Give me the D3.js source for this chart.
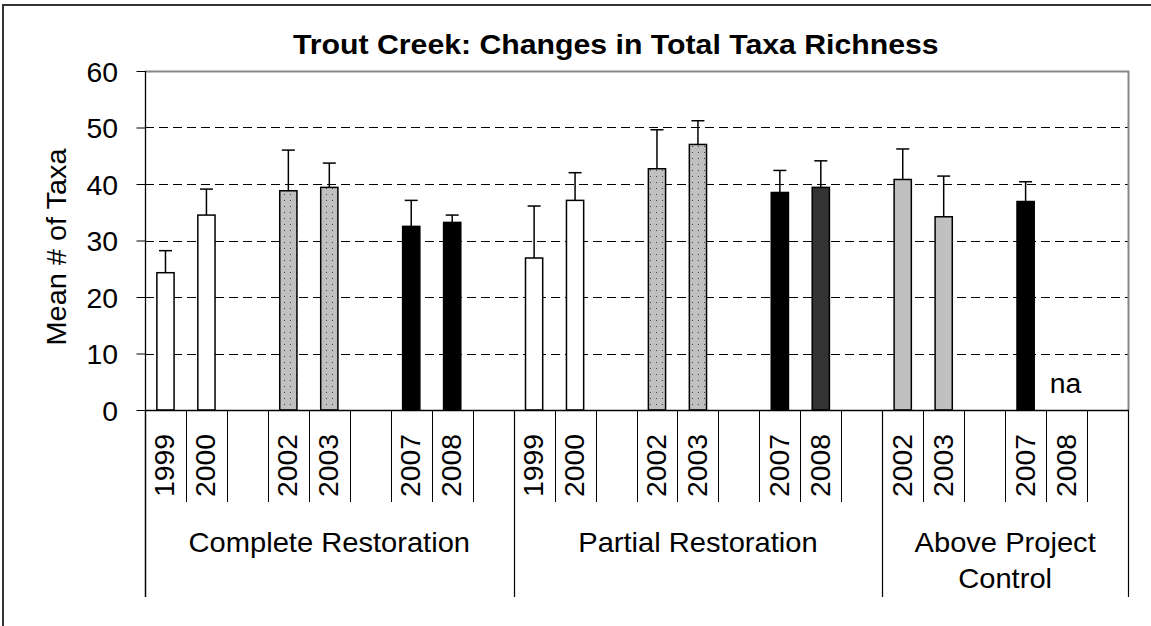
<!DOCTYPE html>
<html><head><meta charset="utf-8">
<script src="https://cdn.jsdelivr.net/npm/d3@7"></script>
<style>body{margin:0;background:#fff}svg{display:block}text{font-family:"Liberation Sans",Arial,sans-serif;fill:#000}</style>
</head><body><svg id="c" width="1151" height="626"></svg>
<script>
const title = "Trout Creek: Changes in Total Taxa Richness";
const yLabel = "Mean # of Taxa";
const yTicks = [0, 10, 20, 30, 40, 50, 60];
const groupLabels = [["Complete Restoration"], ["Partial Restoration"], ["Above Project", "Control"]];
const completeYears = ["1999", "2000", "", "2002", "2003", "", "2007", "2008", ""];
const partialYears  = ["1999", "2000", "", "2002", "2003", "", "2007", "2008", ""];
const controlYears  = ["2002", "2003", "", "2007", "2008", ""];
const completeMeans = [24.3, 34.5, null, 38.8, 39.4, null, 32.5, 33.2, null];
const partialMeans  = [26.9, 37.1, null, 42.7, 47.0, null, 38.5, 39.4, null];
const controlMeans  = [40.8, 34.2, null, 36.9, null, null];
const completeErr = [3.9, 4.6, null, 7.2, 4.3, null, 4.6, 1.3, null];
const partialErr  = [9.2, 4.9, null, 6.9, 4.2, null, 3.9, 4.7, null];
const controlErr  = [5.4, 7.2, null, 3.5, null, null];
const missingLabel = "na";

const groups = [
  {key: "complete", years: completeYears, means: completeMeans, err: completeErr},
  {key: "partial", years: partialYears, means: partialMeans, err: partialErr},
  {key: "control", years: controlYears, means: controlMeans, err: controlErr}
];
const slots = [];
groups.forEach((g, gi) => g.years.forEach((yr, i) => slots.push({gi, key: g.key, year: yr, mean: g.means[i], err: g.err[i], idx: slots.length})));

const svg = d3.select("#c");
const defs = svg.append("defs");
const pat = defs.append("pattern").attr("id", "dots").attr("width", 6).attr("height", 6).attr("patternUnits", "userSpaceOnUse");
pat.append("rect").attr("width", 6).attr("height", 6).attr("fill", "#c0c0c0");
pat.append("rect").attr("x", 2).attr("y", 2).attr("width", 1).attr("height", 1).attr("fill", "#444");

const L = 145, R = 1128, T = 71, B = 410;
const x = d3.scaleBand().domain(slots.map(d => d.idx)).range([L, R]).padding(0);
const y = d3.scaleLinear().domain([0, 60]).range([B, T]);

function txt(parent, px, py, s, o) {
  return parent.append("text")
    .attr("transform", `translate(${px},${py}) rotate(${o.rot || 0}) scale(${o.sx || 1},1)`)
    .attr("text-anchor", o.anchor || "start")
    .attr("font-size", o.size)
    .attr("font-weight", o.weight || "normal")
    .text(s);
}

// outer border
svg.append("rect").attr("x", 3).attr("y", 5).attr("width", 1170).attr("height", 660)
  .attr("fill", "none").attr("stroke", "#333").attr("stroke-width", 2);

// gridlines
svg.append("g").selectAll("line").data(yTicks.filter(t => t > 0 && t < 60)).join("line")
  .attr("x1", L).attr("x2", R).attr("y1", d => Math.round(y(d)) + 0.5).attr("y2", d => Math.round(y(d)) + 0.5)
  .attr("stroke", "#000").attr("stroke-dasharray", "9,5").attr("stroke-width", 1);

// plot border top/right
svg.append("path").attr("d", `M${L},${T + 0.5}H${R + 0.5}V${B}`).attr("fill", "none").attr("stroke", "#888").attr("stroke-width", 2);

// y axis
const yAxis = d3.axisLeft(y).tickValues(yTicks).tickSize(9).tickFormat("");
const ya = svg.append("g").attr("transform", `translate(${L + 0.5},0)`).call(yAxis);
ya.select(".domain").remove();
ya.selectAll(".tick line").attr("stroke", "#000");
yTicks.forEach(t => txt(svg, 118, y(t) + 10.5, String(t), {size: 27, anchor: "end", sx: 1.05}));
svg.append("line").attr("x1", L + 0.5).attr("x2", L + 0.5).attr("y1", T).attr("y2", 597).attr("stroke", "#000").attr("stroke-width", 1.3);

// bars
const bw = x.bandwidth() * 0.42;
const barFill = d => {
  if (d.year === "1999" || d.year === "2000") return "#fff";
  if (d.year === "2002" || d.year === "2003") return d.key === "control" ? "#c0c0c0" : "url(#dots)";
  if (d.year === "2008" && d.key === "partial") return "#333";
  return "#000";
};
const data = slots.filter(d => d.mean != null);
svg.append("g").selectAll("rect").data(data).join("rect")
  .attr("x", d => x(d.idx) + x.bandwidth() / 2 - bw / 2)
  .attr("width", bw)
  .attr("y", d => y(d.mean))
  .attr("height", d => y(0) - y(d.mean))
  .attr("fill", barFill).attr("stroke", "#000").attr("stroke-width", 1.5);

// error bars
const eb = svg.append("g").attr("stroke", "#000").attr("stroke-width", 1.5);
data.forEach(d => {
  const cx = x(d.idx) + x.bandwidth() / 2;
  eb.append("line").attr("x1", cx).attr("x2", cx).attr("y1", y(d.mean)).attr("y2", y(d.mean + d.err));
  eb.append("line").attr("x1", cx - 6.5).attr("x2", cx + 6.5).attr("y1", y(d.mean + d.err)).attr("y2", y(d.mean + d.err));
});

// na
slots.filter(d => d.mean == null && d.year !== "").forEach(d => {
  txt(svg, x(d.idx) + x.bandwidth() / 2 - 1, 393, missingLabel, {size: 27, anchor: "middle", sx: 1.05});
});

// x axis line
svg.append("line").attr("x1", L).attr("x2", R + 1).attr("y1", B + 0.5).attr("y2", B + 0.5).attr("stroke", "#000").attr("stroke-width", 1.3);

// category separators
const groupStart = [];
slots.forEach(d => { if (d.idx === 0 || slots[d.idx - 1].gi !== d.gi) groupStart.push(d.idx); });
slots.forEach(d => {
  if (groupStart.includes(d.idx)) return;
  const xx = Math.round(x(d.idx)) + 0.5;
  svg.append("line").attr("x1", xx).attr("x2", xx).attr("y1", B).attr("y2", 502).attr("stroke", "#000");
});
groupStart.concat([slots.length]).forEach(i => {
  const xx = i === slots.length ? R + 0.5 : Math.round(x(i)) + 0.5;
  svg.append("line").attr("x1", xx).attr("x2", xx).attr("y1", B).attr("y2", 597).attr("stroke", "#000").attr("stroke-width", 1.2);
});

// year labels
slots.filter(d => d.year !== "").forEach(d => {
  txt(svg, x(d.idx) + x.bandwidth() / 2 + 9, 434, d.year, {size: 27, anchor: "end", rot: -90, sx: 1.05});
});

// group labels
groupLabels.forEach((lines, gi) => {
  const idxs = slots.filter(d => d.gi === gi).map(d => d.idx);
  const cx = (x(idxs[0]) + x(idxs[idxs.length - 1]) + x.bandwidth()) / 2;
  lines.forEach((ln, li) => txt(svg, cx, 552 + li * 36, ln, {size: 28, anchor: "middle", sx: 1.04}));
});

// title and y label
txt(svg, 293, 54, title, {size: 27.5, weight: "bold", anchor: "start", sx: 1.1});
txt(svg, 66, 247, yLabel, {size: 27, anchor: "middle", rot: -90, sx: 1.07});
</script></body></html>
